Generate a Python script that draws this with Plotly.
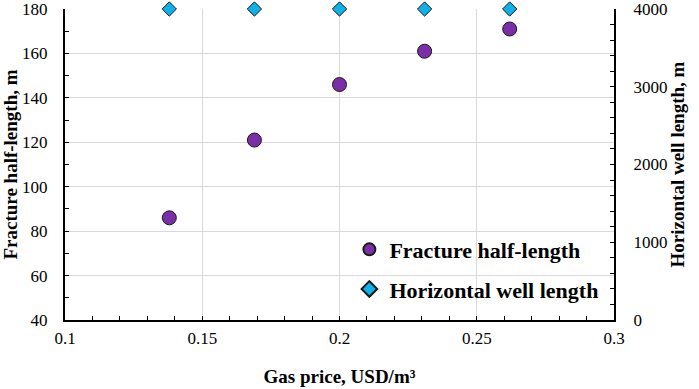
import plotly.graph_objects as go

gas_price = [0.138, 0.169, 0.2, 0.231, 0.262]
fracture_half_length = [86, 121, 146, 161, 171]
horizontal_well_length = [4000, 4000, 4000, 4000, 4000]

FONT = "Liberation Serif"

fig = go.Figure()
fig.add_trace(go.Scatter(
    x=gas_price, y=fracture_half_length, mode="markers",
    name="Fracture half-length", legendgroup="a",
    marker=dict(symbol="circle", size=14, color="#7B2FA6",
                line=dict(color="#1a1a1a", width=1)),
    cliponaxis=False,
))
fig.add_trace(go.Scatter(
    x=gas_price, y=horizontal_well_length, mode="markers",
    name="Horizontal well length", legendgroup="b", yaxis="y2",
    marker=dict(symbol="diamond", size=11, color="#10B0E8",
                line=dict(color="#1a1a1a", width=1)),
    cliponaxis=False,
))

tickfont = dict(family=FONT, size=17, color="black")
titlefont = dict(family=FONT, size=19, color="black", weight="bold")

fig.update_layout(
    width=699, height=389,
    margin=dict(l=65, r=85, t=9, b=69, autoexpand=False),
    paper_bgcolor="white", plot_bgcolor="white",
    showlegend=True,
    legend=dict(x=0.518, y=0.294, xanchor="left", yanchor="top",
                font=dict(family=FONT, size=22, color="black", weight="bold"),
                bgcolor="rgba(0,0,0,0)", tracegroupgap=8,
                itemsizing="constant"),
    xaxis=dict(
        range=[0.1, 0.3], dtick=0.05, tick0=0.1,
        showgrid=True, gridcolor="#D9D9D9", gridwidth=1,
        showline=True, linecolor="black", linewidth=2,
        ticks="inside", ticklen=4, tickcolor="black",
        minor=dict(dtick=0.01, ticks="inside", ticklen=4, tickcolor="black", showgrid=False),
        tickfont=tickfont, ticklabelstandoff=2, ticklabeloverflow="allow",
        title=dict(text="Gas price, USD/m³", font=titlefont, standoff=22),
        zeroline=False, mirror=False, automargin=False,
    ),
    yaxis=dict(
        range=[40, 180], dtick=20,
        showgrid=True, gridcolor="#D9D9D9", gridwidth=1,
        showline=True, linecolor="black", linewidth=2,
        ticks="inside", ticklen=4, tickcolor="black",
        minor=dict(dtick=10, ticks="inside", ticklen=4, tickcolor="black", showgrid=False),
        tickfont=tickfont, ticklabelstandoff=12, ticklabeloverflow="allow",
        title=dict(text="Fracture half-length, m", font=titlefont, standoff=0),
        zeroline=False, automargin=False,
    ),
    yaxis2=dict(
        range=[0, 4000], dtick=1000, overlaying="y", side="right",
        showgrid=False,
        showline=True, linecolor="black", linewidth=2,
        ticks="inside", ticklen=4, tickcolor="black",
        minor=dict(dtick=200, ticks="inside", ticklen=4, tickcolor="black"),
        tickfont=tickfont, ticklabelstandoff=14, ticklabeloverflow="allow",
        title=dict(text="Horizontal well length, m", font=titlefont, standoff=2),
        zeroline=False, automargin=False,
    ),
)

fig.write_html("out.html", config={"displayModeBar": False},
               post_script="document.body.style.margin='0';")
